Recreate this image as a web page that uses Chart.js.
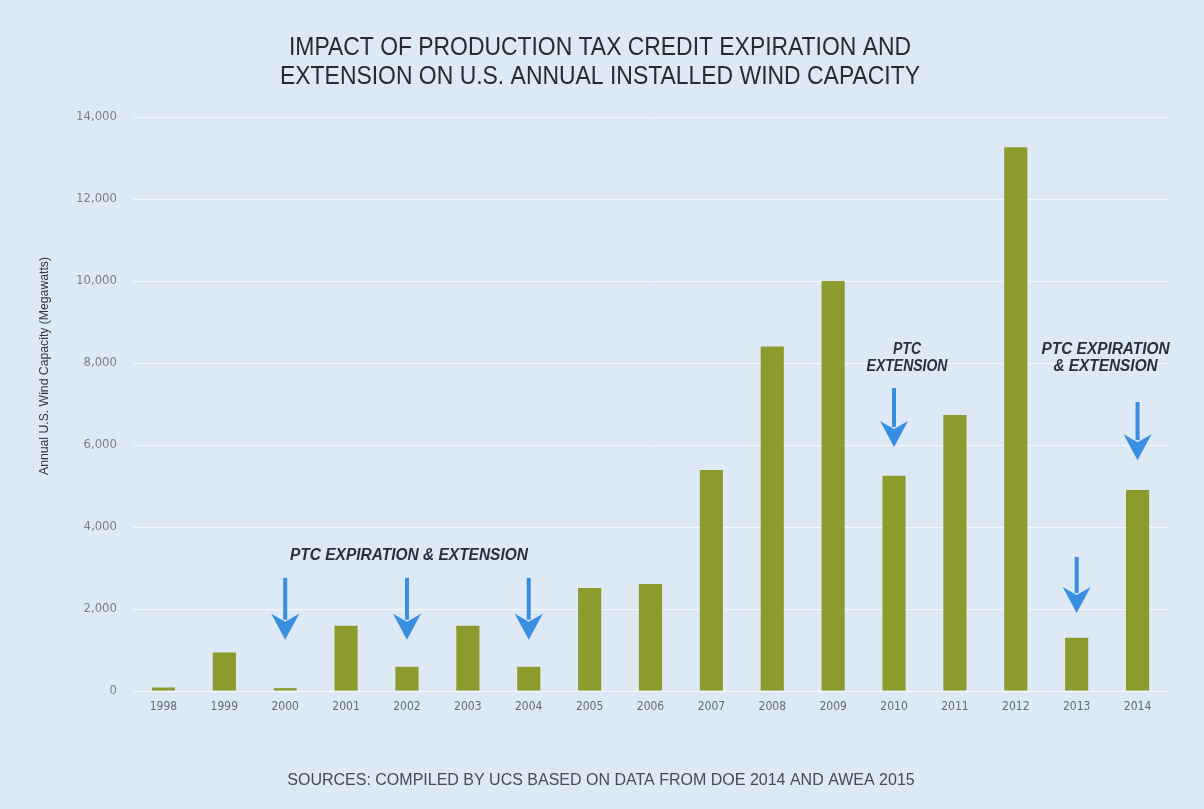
<!DOCTYPE html>
<html>
<head>
<meta charset="utf-8">
<script src="https://cdn.jsdelivr.net/npm/chart.js@4.4.1/dist/chart.umd.min.js"></script>
<style>
  html, body { margin: 0; padding: 0; background: #dde9f4; }
  #wrap { width: 1204px; height: 809px; }
</style>
</head>
<body>
<div id="wrap"><canvas id="windChart" width="1204" height="809"></canvas></div>
<script>
// data (megawatts installed per year)
var years = ["1998", "1999", "2000", "2001", "2002", "2003", "2004", "2005", "2006",
             "2007", "2008", "2009", "2010", "2011", "2012", "2013", "2014"];
var capacity = [85, 940, 70, 1590, 590, 1590, 590, 2510, 2610,
                5390, 8400, 10000, 5250, 6730, 13260, 1300, 4900];
var yTicks = [0, 2000, 4000, 6000, 8000, 10000, 12000, 14000];

var titleLines = ["IMPACT OF PRODUCTION TAX CREDIT EXPIRATION AND",
                  "EXTENSION ON U.S. ANNUAL INSTALLED WIND CAPACITY"];
var sourceText = "SOURCES: COMPILED BY UCS BASED ON DATA FROM DOE 2014 AND AWEA 2015";
var yTitle = "Annual U.S. Wind Capacity (Megawatts)";

// arrows: year, value at shaft top, value at tip
var arrows = [
    { year: "2000", from: 2760, to: 1250 },
    { year: "2002", from: 2760, to: 1250 },
    { year: "2004", from: 2760, to: 1250 },
    { year: "2010", from: 7390, to: 5950 },
    { year: "2013", from: 3270, to: 1900 },
    { year: "2014", from: 7050, to: 5630 }
];
// note text, first line squeezed to width w, the rest with the same squeeze
var notes = [
    { year: "2002", dx: 2, lines: ["PTC EXPIRATION & EXTENSION"], value: 3300, w: 238 },
    { year: "2010", dx: 13, lines: ["PTC", "EXTENSION"], value: 8320, w: 28 },
    { year: "2014", dx: -32, lines: ["PTC EXPIRATION", "& EXTENSION"], value: 8320, w: 128 }
];

var tickFont = "'Liberation Sans Narrow', 'DejaVu Sans Condensed', 'Liberation Sans', sans-serif";

function drawArrow(ctx, x, y1, y2) {
    var headLen = 26, headW = 14;
    ctx.save();
    ctx.strokeStyle = "#3a8ee2";
    ctx.fillStyle = "#3a8ee2";
    ctx.lineWidth = 4;
    ctx.beginPath();
    ctx.moveTo(x, y1);
    ctx.lineTo(x, y2 - headLen + 6);
    ctx.stroke();
    ctx.beginPath();
    ctx.moveTo(x, y2);
    ctx.lineTo(x - headW, y2 - headLen);
    ctx.lineTo(x, y2 - headLen + 8);
    ctx.lineTo(x + headW, y2 - headLen);
    ctx.closePath();
    ctx.fill();
    ctx.restore();
}

var decorPlugin = {
    id: "decor",
    beforeDraw: function(chart) {
        var ctx = chart.ctx;
        ctx.save();
        ctx.fillStyle = "#dde9f4";
        ctx.fillRect(0, 0, chart.width, chart.height);
        ctx.restore();
    },
    afterDatasetsDraw: function(chart) {
        var ctx = chart.ctx;
        var xs = chart.scales.x, ys = chart.scales.y;
        arrows.forEach(function(a) {
            var x = xs.getPixelForValue(years.indexOf(a.year));
            drawArrow(ctx, x, ys.getPixelForValue(a.from), ys.getPixelForValue(a.to));
        });
        ctx.save();
        ctx.fillStyle = "#2c2f3d";
        ctx.textAlign = "center";
        ctx.textBaseline = "middle";
        ctx.font = "italic bold 16px 'Liberation Sans', sans-serif";
        notes.forEach(function(n) {
            var x = xs.getPixelForValue(years.indexOf(n.year)) + n.dx;
            var y = ys.getPixelForValue(n.value);
            var k = n.w / ctx.measureText(n.lines[0]).width;
            ctx.save();
            ctx.translate(x, y);
            ctx.scale(k, 1);
            n.lines.forEach(function(t, i) {
                ctx.fillText(t, 0, i * 17);
            });
            ctx.restore();
        });
        // title
        ctx.fillStyle = "#2a2a30";
        ctx.font = "26px 'Liberation Sans', sans-serif";
        ctx.fillText(titleLines[0], 600, 48, 622);
        ctx.fillText(titleLines[1], 600, 77, 640);
        // source
        ctx.fillStyle = "#4a4a55";
        ctx.font = "16px 'Liberation Sans', sans-serif";
        ctx.fillText(sourceText, 601, 781, 632);
        // y axis title
        ctx.translate(44, 366);
        ctx.rotate(-Math.PI / 2);
        ctx.fillStyle = "#33343c";
        ctx.font = "13px 'Liberation Sans', sans-serif";
        ctx.fillText(yTitle, 0, 0, 218);
        ctx.restore();
    }
};

new Chart("windChart", {
    type: "bar",
    data: {
        labels: years,
        datasets: [{
            data: capacity,
            backgroundColor: "#8c9b2c",
            borderWidth: 0,
            barPercentage: 0.38,
            categoryPercentage: 1.0
        }]
    },
    options: {
        responsive: false,
        animation: false,
        layout: { padding: { top: 117, bottom: 88, left: 0, right: 36 } },
        plugins: {
            legend: { display: false },
            title: { display: false },
            tooltip: { enabled: false }
        },
        scales: {
            x: {
                afterFit: function(s) { s.height = 30; },
                grid: { display: false },
                border: { display: false },
                ticks: {
                    color: "#646a80",
                    font: { family: tickFont, size: 12 },
                    padding: 1,
                    maxRotation: 0
                }
            },
            y: {
                min: 0,
                max: 14000,
                afterFit: function(s) { s.width = 133; },
                afterBuildTicks: function(s) { s.ticks = yTicks.map(function(v) { return { value: v }; }); },
                grid: { color: "rgba(255,255,255,0.7)", lineWidth: 1, drawTicks: false },
                border: { display: false },
                ticks: {
                    color: "#7d7f88",
                    font: { family: tickFont, size: 13 },
                    padding: 16
                }
            }
        }
    },
    plugins: [decorPlugin]
});
</script>
</body>
</html>
